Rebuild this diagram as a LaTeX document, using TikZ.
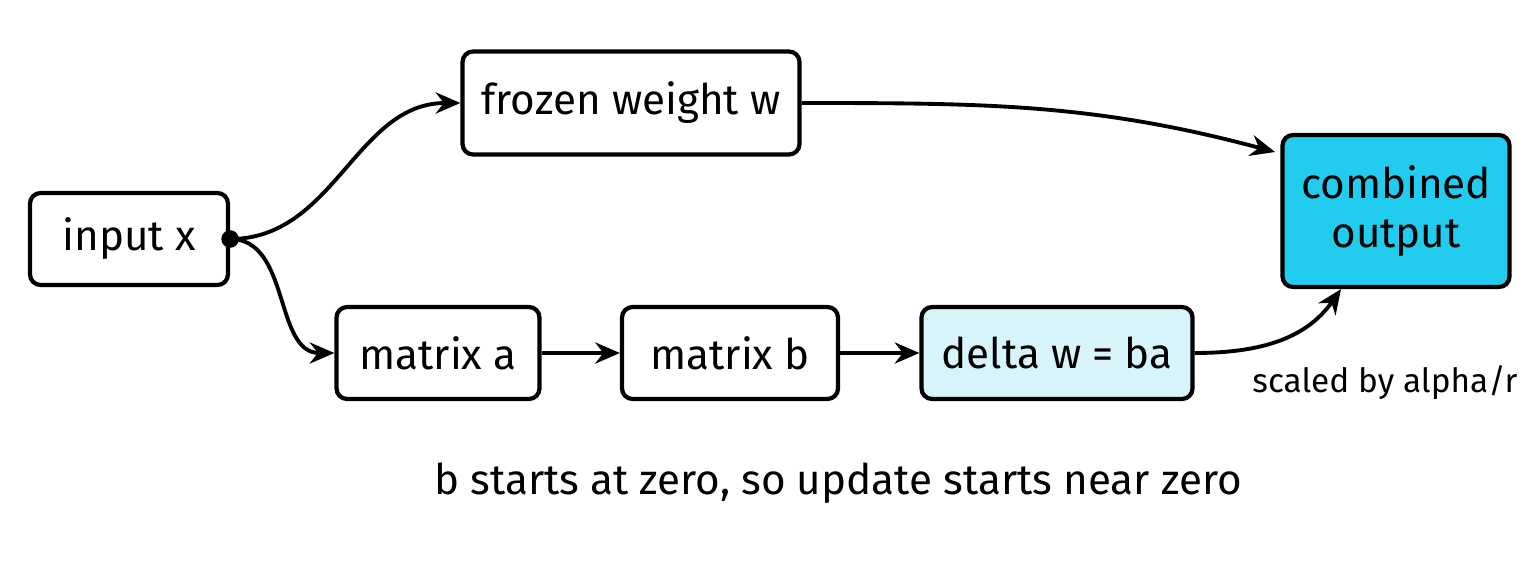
\documentclass[tikz,border=0pt]{standalone}
\usepackage{fontspec}
\setmainfont{Fira Sans}
\usetikzlibrary{positioning,arrows.meta}
\definecolor{outcyan}{HTML}{22CCEE}
\definecolor{deltacyan}{HTML}{D6F4FA}
\tikzset{
  box/.style={draw, line width=2.4pt, rounded corners=6pt, fill=white,
    minimum height=1.84cm, font=\fontsize{24}{28}\selectfont, align=center},
  flow/.style={line width=2.2pt, -{Stealth[length=14pt,width=12pt]}},
}
\begin{document}
\begin{tikzpicture}[node distance=2cm,on grid]
  \useasboundingbox (0,0) rectangle (30.72,-11.26);

  \node[box, minimum width=3.96cm]            (input)  at (2.58,-4.78)  {input x};
  \node[box, minimum width=6.74cm, minimum height=2.06cm] (frozen) at (12.62,-2.06) {frozen weight w};
  \node[box, minimum width=4.54cm, minimum height=3.04cm, fill=outcyan] (output) at (27.92,-4.22) {combined\\output};
  \node[box, minimum width=4.06cm]            (mata)   at (8.76,-7.06)  {matrix a};
  \node[box, minimum width=4.32cm]            (matb)   [right=5.84cm of mata] {matrix b};
  \node[box, minimum width=5.42cm, fill=deltacyan] (delta) [right=6.54cm of matb] {delta w = ba};
  \fill (input.east) circle (5pt);
  \coordinate (split) at (input.east);
  \coordinate (hit) at (25.5,-3.04);

  \draw[flow] (split) to[out=0,in=180] (frozen.west);
  \draw[flow] (split) to[out=0,in=180] (mata.west);
  \draw[flow] (mata) -- (matb);
  \draw[flow] (matb) -- (delta);
  \draw[flow] (frozen.east) to[out=0,in=165] (hit);
  \draw[flow] (delta.east) to[out=0,in=235] ([xshift=-1.1cm]output.south);

  \node[font=\fontsize{19}{22}\selectfont] (scale) at (27.7,-7.66) {scaled by alpha/r};
  \node[font=\fontsize{24}{28}\selectfont] (note) at (16.76,-9.66) {b starts at zero, so update starts near zero};
\end{tikzpicture}
\end{document}
